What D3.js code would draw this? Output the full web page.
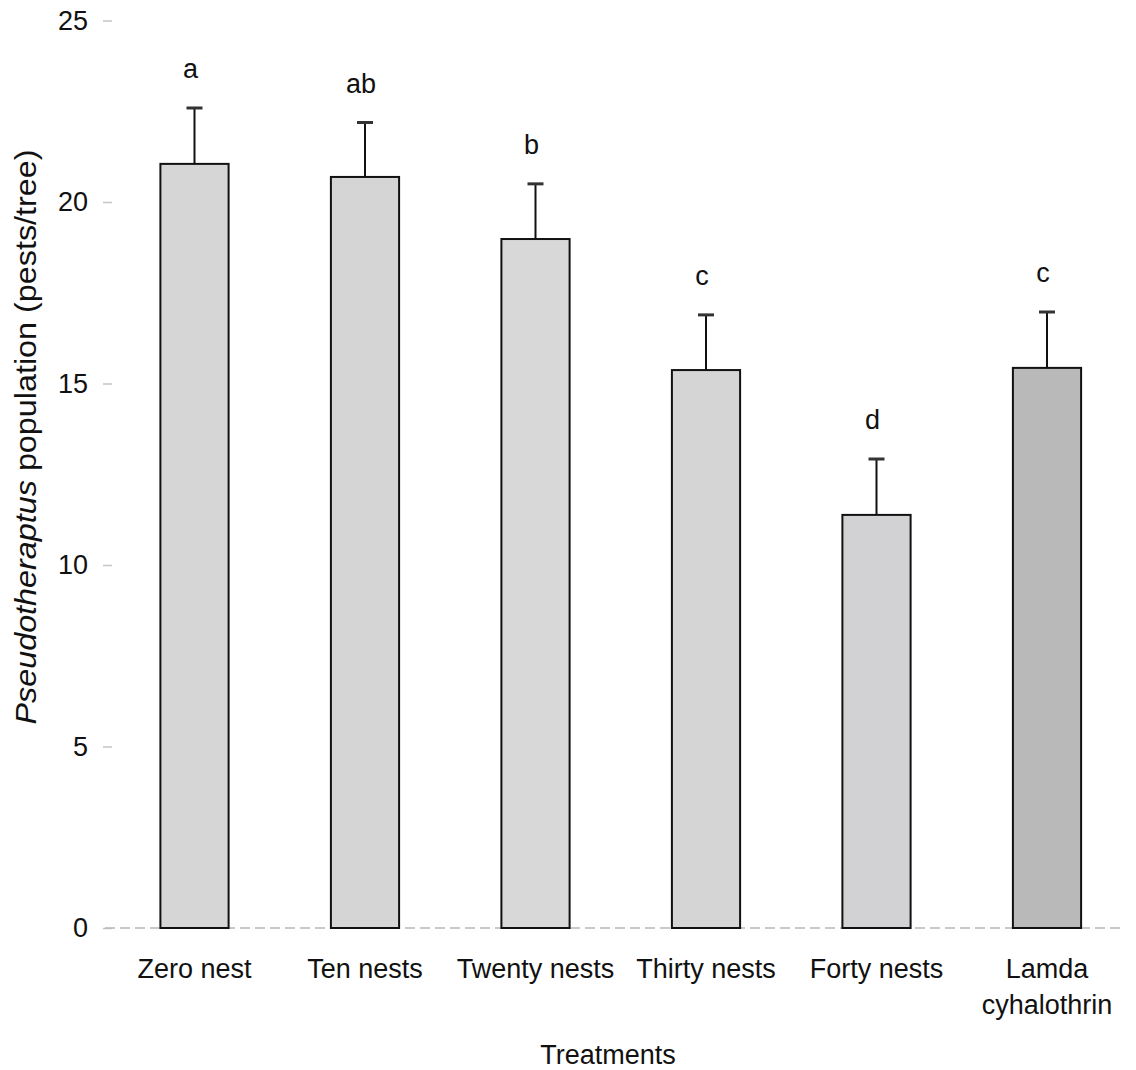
<!DOCTYPE html>
<html>
<head>
<meta charset="utf-8">
<script src="https://cdn.jsdelivr.net/npm/d3@7"></script>
<style>
  html, body { margin: 0; padding: 0; background: #fff; }
  svg { display: block; font-family: "Liberation Sans", Arial, sans-serif; }
</style>
</head>
<body>
<svg id="chart" width="1136" height="1070"></svg>
<script>
// Treatment groups and mean pest counts per tree
const categories = ["Zero nest", "Ten nests", "Twenty nests", "Thirty nests", "Forty nests", "Lamda cyhalothrin"];
const means = [21.05, 20.69, 18.98, 15.37, 11.38, 15.43];
const errors = [1.54, 1.5, 1.52, 1.52, 1.54, 1.54];
const letters = ["a", "ab", "b", "c", "d", "c"];
const yTicks = [0, 5, 10, 15, 20, 25];
const barFills = ["#d6d6d6", "#d5d5d5", "#d8d8d8", "#d5d5d5", "#d2d2d4", "#b9b9b9"];

const svg = d3.select("#chart");
const FONT = "Liberation Sans, Arial, sans-serif";

const x = d3.scaleBand()
  .domain(categories)
  .range([109.25, 1132.25])
  .paddingInner(0.6)
  .paddingOuter(0.3);

const y = d3.scaleLinear()
  .domain([0, 25])
  .range([928, 20.5]);

// y axis: labels and faint ticks, no spine
const yAxis = d3.axisLeft(y).tickValues(yTicks).tickSize(9).tickPadding(15);
const gy = svg.append("g").attr("transform", "translate(112,0)").call(yAxis);
gy.select(".domain").remove();
gy.selectAll(".tick line").attr("stroke", "#c4c4c4").attr("stroke-width", 1.5);
gy.selectAll(".tick text").attr("font-size", 27).attr("fill", "#111")
  .attr("font-family", FONT);

// faint dashed baseline at zero
svg.append("line")
  .attr("x1", 105).attr("x2", 1124)
  .attr("y1", y(0)).attr("y2", y(0))
  .attr("stroke", "#b8b8b8").attr("stroke-width", 1.5)
  .attr("stroke-dasharray", "10,5");

const data = categories.map((c, i) => ({ c, m: means[i], e: errors[i], l: letters[i], f: barFills[i] }));
const cx = d => x(d.c) + x.bandwidth() / 2;

// error bars (upper only)
const eb = svg.append("g");
eb.selectAll("line.stem").data(data).join("line")
  .attr("class", "stem")
  .attr("x1", cx).attr("x2", cx)
  .attr("y1", d => y(d.m)).attr("y2", d => y(d.m + d.e))
  .attr("stroke", "#111").attr("stroke-width", 2);
eb.selectAll("line.cap").data(data).join("line")
  .attr("class", "cap")
  .attr("x1", d => cx(d) - 8).attr("x2", d => cx(d) + 8)
  .attr("y1", d => y(d.m + d.e)).attr("y2", d => y(d.m + d.e))
  .attr("stroke", "#333").attr("stroke-width", 3);

// bars
svg.append("g").selectAll("rect").data(data).join("rect")
  .attr("x", d => x(d.c))
  .attr("width", x.bandwidth())
  .attr("y", d => y(d.m))
  .attr("height", d => y(0) - y(d.m))
  .attr("fill", d => d.f)
  .attr("stroke", "#111").attr("stroke-width", 2);

// significance letters
svg.append("g").selectAll("text").data(data).join("text")
  .attr("x", d => cx(d) - 4)
  .attr("y", d => y(d.m + d.e) - 30)
  .attr("text-anchor", "middle")
  .attr("font-size", 27).attr("fill", "#111")
  .text(d => d.l);

// category labels
const xl = svg.append("g").selectAll("text").data(data).join("text")
  .attr("x", cx)
  .attr("y", 978)
  .attr("text-anchor", "middle")
  .attr("font-size", 27).attr("fill", "#111");
xl.each(function (d) {
  const t = d3.select(this);
  const parts = d.c === "Lamda cyhalothrin" ? ["Lamda", "cyhalothrin"] : [d.c];
  parts.forEach((p, i) => {
    t.append("tspan").attr("x", cx(d)).attr("dy", i === 0 ? 0 : 36).text(p);
  });
});

// axis titles
svg.append("text")
  .attr("x", 608).attr("y", 1064)
  .attr("text-anchor", "middle")
  .attr("font-size", 27).attr("fill", "#111")
  .text("Treatments");

const yt = svg.append("text")
  .attr("transform", "translate(36,437) rotate(-90)")
  .attr("text-anchor", "middle")
  .attr("font-size", 29).attr("fill", "#111")
  .attr("textLength", 575).attr("lengthAdjust", "spacingAndGlyphs");
yt.append("tspan").attr("font-style", "italic").text("Pseudotheraptus");
yt.append("tspan").text(" population (pests/tree)");
</script>
</body>
</html>
